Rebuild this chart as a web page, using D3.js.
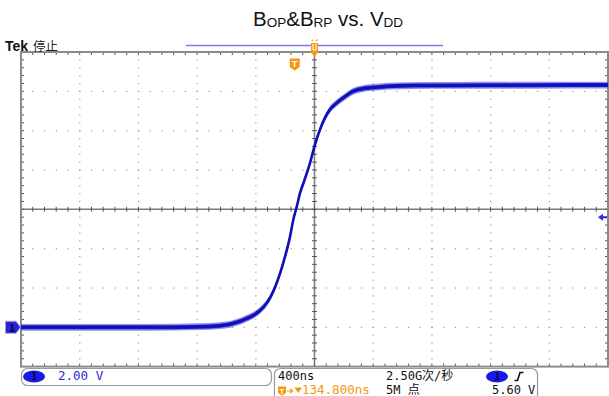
<!DOCTYPE html>
<html>
<head>
<meta charset="utf-8">
<script src="https://cdn.jsdelivr.net/npm/d3@7"></script>
<style>
  html, body { margin: 0; padding: 0; background: #fff; }
  svg { display: block; }
</style>
</head>
<body>
<svg id="scope" width="609" height="396"></svg>
<script>
// Acquisition settings shown on the readout
const voltsPerDiv = 2.0;          // CH1 scale
const timePerDivNs = 400;         // horizontal scale
const horizDelayNs = 134.8;       // centre of screen relative to trigger
const groundPosDiv = -3.0;        // CH1 position (0 V marker)
const triggerLevelV = 5.60;
const hDivs = 10, vDivs = 8, minorPerDiv = 5;

// CH1 trace: time (ns, relative to trigger) and voltage (V)
const traceTimeNs = [-1865, -1400, -986, -645, -509, -441, -395, -327, -259, -214, -168, -134, -100, -66, -32, -10, 14, 36, 63, 104, 138, 172, 206, 240, 286, 331, 399, 467, 559, 638, 800, 1058, 1600, 2135];
const traceVolts  = [0.00, 0.00, 0.00, 0.03, 0.08, 0.15, 0.25, 0.45, 0.72, 1.02, 1.50, 2.04, 2.74, 3.59, 4.61, 5.46, 6.14, 6.82, 7.41, 8.35, 9.29, 10.05, 10.65, 11.07, 11.41, 11.67, 12.00, 12.14, 12.21, 12.26, 12.29, 12.30, 12.31, 12.32];

// Readout labels
const titleParts = [["B", false], ["OP", true], ["&B", false], ["RP", true], [" vs. V", false], ["DD", true]];
const chScaleLabel = "2.00 V";
const timeScaleLabel = "400ns";
const delayLabel = "134.800ns";
const sampleRateLabel = "2.50G次/秒";
const recordLabel = "5M 点";
const trigLevelLabel = "5.60 V";

const svg = d3.select("#scope");
const pL = 21, pR = 608, pT = 52, pB = 366.6;

// Graticule division scales
const gx = d3.scaleLinear().domain([0, hDivs]).range([pL, pR]);
const gy = d3.scaleLinear().domain([0, vDivs]).range([pT, pB]);

// Data scales derived from the scope settings
const halfT = timePerDivNs * hDivs / 2;
const x = d3.scaleLinear().domain([horizDelayNs - halfT, horizDelayNs + halfT]).range([pL, pR]);
const centerV = -groundPosDiv * voltsPerDiv;
const halfV = voltsPerDiv * vDivs / 2;
const y = d3.scaleLinear().domain([centerV - halfV, centerV + halfV]).range([pB, pT]);

const grid = svg.append("g");
const dotColor = "#9a9a9a";

// dotted division lines
d3.range(1, hDivs).filter(i => i !== hDivs / 2).forEach(i => {
  d3.range(1, vDivs * minorPerDiv).forEach(k => {
    grid.append("rect").attr("x", gx(i) - 0.5).attr("y", gy(k / minorPerDiv) - 0.5)
      .attr("width", 1.2).attr("height", 1.2).attr("fill", dotColor);
  });
});
d3.range(1, vDivs).filter(j => j !== vDivs / 2).forEach(j => {
  d3.range(1, hDivs * minorPerDiv).forEach(k => {
    grid.append("rect").attr("x", gx(k / minorPerDiv) - 0.5).attr("y", gy(j) - 0.5)
      .attr("width", 1.2).attr("height", 1.2).attr("fill", dotColor);
  });
});

// centre axes with minor ticks
const axisColor = "#7a7a7a";
grid.append("line").attr("x1", pL).attr("x2", pR).attr("y1", gy(vDivs / 2)).attr("y2", gy(vDivs / 2))
  .attr("stroke", axisColor).attr("stroke-width", 1.5);
grid.append("line").attr("x1", gx(hDivs / 2)).attr("x2", gx(hDivs / 2)).attr("y1", pT).attr("y2", pB)
  .attr("stroke", axisColor).attr("stroke-width", 1.5);
d3.range(1, hDivs * minorPerDiv).forEach(k => {
  const xx = gx(k / minorPerDiv), yc = gy(vDivs / 2);
  grid.append("line").attr("x1", xx).attr("x2", xx).attr("y1", yc - 2.5).attr("y2", yc + 2.5)
    .attr("stroke", "#555").attr("stroke-width", 1);
  grid.append("line").attr("x1", xx).attr("x2", xx).attr("y1", pT).attr("y2", pT + 3)
    .attr("stroke", "#555").attr("stroke-width", 1);
  grid.append("line").attr("x1", xx).attr("x2", xx).attr("y1", pB - 3).attr("y2", pB)
    .attr("stroke", "#555").attr("stroke-width", 1);
});
d3.range(1, vDivs * minorPerDiv).forEach(k => {
  const yy = gy(k / minorPerDiv), xc = gx(hDivs / 2);
  grid.append("line").attr("x1", xc - 2.5).attr("x2", xc + 2.5).attr("y1", yy).attr("y2", yy)
    .attr("stroke", "#555").attr("stroke-width", 1);
  grid.append("line").attr("x1", pL).attr("x2", pL + 3).attr("y1", yy).attr("y2", yy)
    .attr("stroke", "#555").attr("stroke-width", 1);
  grid.append("line").attr("x1", pR - 3).attr("x2", pR).attr("y1", yy).attr("y2", yy)
    .attr("stroke", "#555").attr("stroke-width", 1);
});

// graticule frame
grid.append("rect").attr("x", pL).attr("y", pT).attr("width", pR - pL).attr("height", pB - pT)
  .attr("fill", "none").attr("stroke", "#8a8a8a").attr("stroke-width", 2);

// CH1 waveform
const pts = traceTimeNs.map((t, i) => [t, traceVolts[i]]);
const band = d3.area().curve(d3.curveMonotoneX)
  .x(d => x(d[0])).y0(d => y(d[1]) - 3.4).y1(d => y(d[1]) + 3.4);
const band2 = d3.area().curve(d3.curveMonotoneX)
  .x(d => x(d[0])).y0(d => y(d[1]) - 2.0).y1(d => y(d[1]) + 2.0);
const line = d3.line().curve(d3.curveMonotoneX).x(d => x(d[0])).y(d => y(d[1]));
const trace = svg.append("g");
trace.append("path").attr("d", band(pts)).attr("fill", "#6a6ae0").attr("opacity", 0.75);
trace.append("path").attr("d", band2(pts)).attr("fill", "#1e1ec8");
trace.append("path").attr("d", line(pts)).attr("fill", "none").attr("stroke", "#1010b8").attr("stroke-width", 2.6);

// record view bar
svg.append("line").attr("x1", 186).attr("x2", 443).attr("y1", 45.5).attr("y2", 45.5)
  .attr("stroke", "#7b7bec").attr("stroke-width", 1.6);

const orange = "#f5960f";
// horizontal position marker (screen centre)
const cx = gx(hDivs / 2);
svg.append("path")
  .attr("d", `M${cx - 3.5},43 L${cx + 3.5},43 L${cx + 3.5},52 L${cx},57 L${cx - 3.5},52 Z`)
  .attr("fill", orange);
svg.append("path")
  .attr("d", `M${cx - 1.5},43.5 L${cx - 1.5},50 L${cx + 1.5},50 L${cx + 1.5},43.5`)
  .attr("fill", "none").attr("stroke", "#fff").attr("stroke-width", 1);
svg.append("rect").attr("x", cx - 3).attr("y", 39.5).attr("width", 1.5).attr("height", 1.5).attr("fill", orange);
svg.append("rect").attr("x", cx + 1.5).attr("y", 39.5).attr("width", 1.5).attr("height", 1.5).attr("fill", orange);

// trigger point badge
const tx = x(0);
svg.append("path")
  .attr("d", `M${tx - 5},58.5 L${tx + 5},58.5 L${tx + 5},67 L${tx},70.5 L${tx - 5},67 Z`)
  .attr("fill", orange);
svg.append("text").attr("x", tx).attr("y", 67).attr("text-anchor", "middle")
  .attr("font-family", "Liberation Sans, Arial, sans-serif").attr("font-weight", "bold")
  .attr("font-size", 9.5).attr("fill", "#fff").text("T");

// CH1 ground marker
const gy0 = y(0);
svg.append("path")
  .attr("d", `M5.5,${gy0 - 6} L16,${gy0 - 6} L20.5,${gy0} L16,${gy0 + 6} L5.5,${gy0 + 6} Z`)
  .attr("fill", "#2626d8").attr("stroke", "#9a9af0").attr("stroke-width", 1);
svg.append("text").attr("x", 12).attr("y", gy0 + 4.5).attr("text-anchor", "middle")
  .attr("font-family", "DejaVu Sans, sans-serif").attr("font-weight", "bold")
  .attr("font-size", 11).attr("fill", "#0a0a50").text("1");

// trigger level marker
const ty = y(triggerLevelV);
svg.append("path")
  .attr("d", `M598,${ty} L603,${ty - 3.5} L603,${ty - 1} L607,${ty - 1} L607,${ty + 1} L603,${ty + 1} L603,${ty + 3.5} Z`)
  .attr("fill", "#2a2ae0");

// title
const title = svg.append("text").attr("x", 253).attr("y", 27)
  .attr("font-family", "Liberation Sans, Arial, sans-serif").attr("fill", "#111");
titleParts.forEach(([txt, sub]) => {
  title.append("tspan").attr("font-size", sub ? 13.5 : 20.5).attr("dy", sub ? 0.8 : -0.8).text(txt);
});

// header
svg.append("text").attr("x", 5).attr("y", 51)
  .attr("font-family", "Liberation Sans, Arial, sans-serif").attr("font-weight", "bold")
  .attr("font-size", 14).attr("fill", "#111").text("Tek");
svg.append("text").attr("x", 33).attr("y", 51)
  .attr("font-family", "Noto Sans CJK SC, sans-serif")
  .attr("font-size", 12.5).attr("fill", "#222").text("停止");

// readout panels
const mono = "DejaVu Sans Mono, Noto Sans CJK SC, monospace";
const row1 = 379.8, row2 = 394, fs = 12;
svg.append("rect").attr("x", 21.5).attr("y", 368.5).attr("width", 250).attr("height", 17).attr("rx", 6)
  .attr("fill", "#fff").attr("stroke", "#9a9a9a").attr("stroke-width", 1.2);
svg.append("ellipse").attr("cx", 34).attr("cy", 376.5).attr("rx", 11).attr("ry", 6)
  .attr("fill", "#1a1ae8");
svg.append("text").attr("x", 34).attr("y", row1 + 0.5).attr("text-anchor", "middle")
  .attr("font-family", mono).attr("font-size", 11).attr("fill", "#000").text("1");
svg.append("text").attr("x", 58).attr("y", row1)
  .attr("font-family", mono).attr("font-size", fs + 0.5).attr("fill", "#2a2ad8").text(chScaleLabel);

svg.append("rect").attr("x", 274.5).attr("y", 368.5).attr("width", 263).attr("height", 40).attr("rx", 6)
  .attr("fill", "#fff").attr("stroke", "#9a9a9a").attr("stroke-width", 1.2);
svg.append("text").attr("x", 278).attr("y", row1)
  .attr("font-family", mono).attr("font-size", fs).attr("fill", "#111").text(timeScaleLabel);
// delay readout: T badge, arrow, marker
svg.append("path").attr("d", "M278,386.5 L286,386.5 L286,393 L282,395.5 L278,393 Z").attr("fill", orange);
svg.append("text").attr("x", 282).attr("y", 393.5).attr("text-anchor", "middle")
  .attr("font-family", "Liberation Sans, Arial, sans-serif").attr("font-weight", "bold")
  .attr("font-size", 8).attr("fill", "#fff").text("T");
svg.append("path").attr("d", "M287,391 L292,391 M290,389 L292.5,391 L290,393")
  .attr("fill", "none").attr("stroke", orange).attr("stroke-width", 1.2);
svg.append("path").attr("d", "M294.5,387.5 L302,387.5 L298.2,393 Z").attr("fill", orange);
svg.append("text").attr("x", 302).attr("y", row2)
  .attr("font-family", mono).attr("font-size", fs + 0.5).attr("fill", orange).text(delayLabel);

svg.append("text").attr("x", 386).attr("y", row1)
  .attr("font-family", mono).attr("font-size", fs).attr("fill", "#111").text(sampleRateLabel);
svg.append("text").attr("x", 386).attr("y", row2)
  .attr("font-family", mono).attr("font-size", fs).attr("fill", "#111").text(recordLabel);

svg.append("ellipse").attr("cx", 497).attr("cy", 376.5).attr("rx", 11).attr("ry", 6)
  .attr("fill", "#1a1ae8");
svg.append("text").attr("x", 497).attr("y", row1 + 0.5).attr("text-anchor", "middle")
  .attr("font-family", mono).attr("font-size", 11).attr("fill", "#000").text("1");
svg.append("path").attr("d", "M514.5,380.5 L517.5,380.5 L520,372.5 L523.5,372.5")
  .attr("fill", "none").attr("stroke", "#111").attr("stroke-width", 1.6);
svg.append("text").attr("x", 492).attr("y", row2)
  .attr("font-family", mono).attr("font-size", fs).attr("fill", "#111").text(trigLevelLabel);
</script>
</body>
</html>
